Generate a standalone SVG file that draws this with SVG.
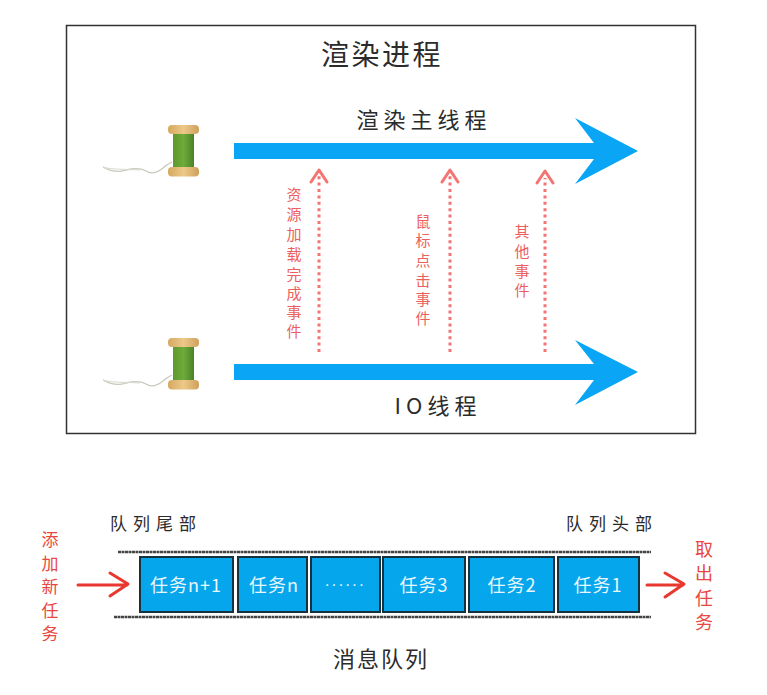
<svg xmlns="http://www.w3.org/2000/svg" width="767" height="695" viewBox="0 0 767 695">
  <style>
    text { font-family: "Noto Sans CJK SC", "Noto Sans", sans-serif; }
    .dark { fill: #2b2b2b; }
    .red { fill: #e8483f; }
    .pink { fill: #ec5f5f; font-size: 15px; text-anchor: middle; }
    .task { fill: #06a6ec; stroke: #17323f; stroke-width: 2; }
    .tasklabel { fill: #e8f7fd; font-size: 18px; text-anchor: middle; letter-spacing: 1px; }
    .rail { stroke: #444; stroke-width: 2.5; stroke-dasharray: 3 .5; fill: none; }
    .event { stroke: #f47474; stroke-width: 3; stroke-dasharray: 3 3.4; fill: none; }
    .eventhead { stroke: #f47474; stroke-width: 3; fill: none; stroke-linecap: round; stroke-linejoin: round; }
    .flow { stroke: #e8382f; stroke-width: 3; fill: none; stroke-linecap: round; stroke-linejoin: round; }
    .thread { fill: #0aa6f5; }
  </style>
  <defs>
    <linearGradient id="wood" x1="0" x2="1" y1="0" y2="0">
      <stop offset="0" stop-color="#d5a85f"/>
      <stop offset=".5" stop-color="#ecc98a"/>
      <stop offset="1" stop-color="#cfa05a"/>
    </linearGradient>
    <linearGradient id="yarn" x1="0" x2="1" y1="0" y2="0">
      <stop offset="0" stop-color="#5c9a2c"/>
      <stop offset=".5" stop-color="#6eab3c"/>
      <stop offset="1" stop-color="#4a8325"/>
    </linearGradient>
    <g id="spool">
      <path d="M103 167 C110 171 118 173 126 170 C134 168 141 168 146 171 C152 175 158 172 163 168 C166 165 168 164 172 162" fill="none" stroke="#c9c9bd" stroke-width="1.300"/>
      <path d="M103 167 C112 170 126 169 140 170" fill="none" stroke="#d8d8cf" stroke-width="1"/>
      <rect x="173" y="133" width="21" height="35" fill="url(#yarn)"/>
      <rect x="168" y="125" width="31" height="9" rx="4" fill="url(#wood)"/>
      <rect x="168" y="167" width="31" height="9.500" rx="4" fill="url(#wood)"/>
    </g>
  </defs>

  <rect width="767" height="695" fill="#fff"/>

  <g id="render-process">
    <rect x="66.500" y="25.500" width="629" height="408" fill="none" stroke="#333" stroke-width="1.500"/>
    <text x="382" y="65" class="dark" font-size="28" text-anchor="middle" letter-spacing="2.500">渲染进程</text>
  </g>

  <g id="main-thread">
    <use href="#spool"/>
    <text x="424" y="128" class="dark" font-size="22" text-anchor="middle" letter-spacing="5">渲染主线程</text>
  </g>

  <g id="io-thread">
    <use href="#spool" y="213"/>
    <text x="438" y="414" class="dark" font-size="22" text-anchor="middle" letter-spacing="5">IO线程</text>
  </g>

  <g id="connectors">
    <path class="thread" d="M234 143H594L575 118L638 151L575 184L594 159H234Z"/>
    <path class="thread" d="M234 364H594L575 340L638 372L575 405L594 380H234Z"/>

    <path class="event" d="M319 352V176"/>
    <path class="eventhead" d="M311 182L319 170L327 182"/>
    <path class="event" d="M450 352V176"/>
    <path class="eventhead" d="M442 182L450 170L458 182"/>
    <path class="event" d="M545 352V178"/>
    <path class="eventhead" d="M537 183L545 171L553 183"/>

    <path class="flow" d="M78 585H127M110 573L128 584L110 596"/>
    <path class="flow" d="M647 585H683M665 573L684 584L665 597"/>
  </g>

  <g id="label-resource-loaded">
    <text class="pink"><tspan x="294" y="200">资</tspan><tspan x="294" y="220">源</tspan><tspan x="294" y="240">加</tspan><tspan x="294" y="260">载</tspan><tspan x="294" y="280">完</tspan><tspan x="294" y="299">成</tspan><tspan x="294" y="318">事</tspan><tspan x="294" y="337">件</tspan></text>
  </g>
  <g id="label-mouse-click">
    <text class="pink"><tspan x="423" y="227">鼠</tspan><tspan x="423" y="246">标</tspan><tspan x="423" y="266">点</tspan><tspan x="423" y="286">击</tspan><tspan x="423" y="305">事</tspan><tspan x="423" y="324">件</tspan></text>
  </g>
  <g id="label-other-events">
    <text class="pink"><tspan x="522" y="237">其</tspan><tspan x="522" y="257">他</tspan><tspan x="522" y="277">事</tspan><tspan x="522" y="296">件</tspan></text>
  </g>

  <g id="queue-rails">
    <path class="rail" d="M118 552H651"/>
    <path class="rail" d="M114 617H651"/>
  </g>

  <g id="task-n-plus-1">
    <rect class="task" x="140" y="557" width="93" height="55"/>
    <text class="tasklabel" x="186" y="592">任务n+1</text>
  </g>
  <g id="task-n">
    <rect class="task" x="238" y="557" width="69" height="55"/>
    <text class="tasklabel" x="274" y="592">任务n</text>
  </g>
  <g id="task-ellipsis">
    <rect class="task" x="311" y="557" width="69" height="55"/>
    <text class="tasklabel" x="345" y="590" style="font-family:'Liberation Sans',sans-serif;font-size:16px;letter-spacing:1.500px">······</text>
  </g>
  <g id="task-3">
    <rect class="task" x="383" y="557" width="82" height="55"/>
    <text class="tasklabel" x="424" y="592">任务3</text>
  </g>
  <g id="task-2">
    <rect class="task" x="469" y="557" width="85" height="55"/>
    <text class="tasklabel" x="512" y="592">任务2</text>
  </g>
  <g id="task-1">
    <rect class="task" x="558" y="557" width="81" height="55"/>
    <text class="tasklabel" x="598" y="592">任务1</text>
  </g>

  <g id="queue-labels">
    <text x="156" y="530" class="dark" font-size="17" text-anchor="middle" letter-spacing="6">队列尾部</text>
    <text x="612" y="530" class="dark" font-size="17" text-anchor="middle" letter-spacing="6">队列头部</text>
    <text x="381" y="667" class="dark" font-size="22" text-anchor="middle" letter-spacing="2">消息队列</text>
  </g>

  <g id="label-add-task">
    <text class="red" font-size="17" text-anchor="middle"><tspan x="50" y="546">添</tspan><tspan x="50" y="570">加</tspan><tspan x="50" y="593">新</tspan><tspan x="50" y="617">任</tspan><tspan x="50" y="640">务</tspan></text>
  </g>
  <g id="label-take-task">
    <text class="red" font-size="18" text-anchor="middle"><tspan x="704" y="556">取</tspan><tspan x="704" y="580">出</tspan><tspan x="704" y="605">任</tspan><tspan x="704" y="629">务</tspan></text>
  </g>
</svg>
